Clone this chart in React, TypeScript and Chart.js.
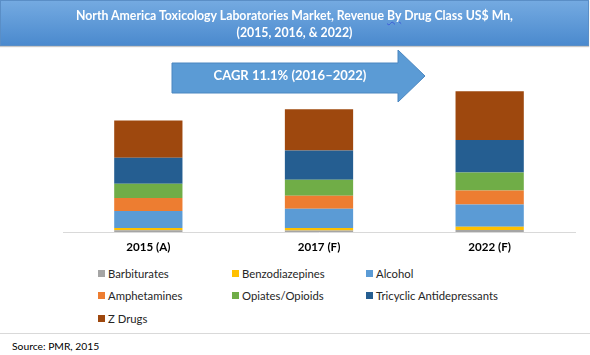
import React, { useEffect, useRef } from "react";
import { Chart, registerables } from "chart.js";

Chart.register(...registerables);

const categories = ["2015 (A)", "2017 (F)", "2022 (F)"];
const seriesNames = [
  "Barbiturates",
  "Benzodiazepines",
  "Alcohol",
  "Amphetamines",
  "Opiates/Opioids",
  "Tricyclic Antidepressants",
  "Z Drugs",
];
const seriesColors = ["#a5a5a5", "#ffc000", "#5b9bd5", "#ed7d31", "#70ad47", "#255e91", "#9e480e"];

const barbiturates = [1.7, 1.5, 2.0];
const benzodiazepines = [2.3, 2.5, 3.3];
const alcohol = [17, 19.3, 22];
const amphetamines = [13, 12.7, 14];
const opiates = [14, 16, 18];
const tricyclic = [26, 29, 32.3];
const zDrugs = [37, 41, 48.3];

const seriesValues = [barbiturates, benzodiazepines, alcohol, amphetamines, opiates, tricyclic, zDrugs];

const titleLine1 = "North America Toxicology Laboratories Market, Revenue ";
const titleBy = "By";
const titleLine1End = " Drug Class US$ Mn,";
const titleLine2 = "(2015, 2016, & 2022)";
const cagrText = "CAGR 11.1% (2016\u20132022)";
const sourceText = "Source: PMR, 2015";

const FONT = "Lato, 'Open Sans', sans-serif";

export default function App() {
  const canvasRef = useRef<HTMLCanvasElement | null>(null);

  useEffect(() => {
    document.body.style.margin = "0";
    const canvas = canvasRef.current;
    if (!canvas) return;
    const chart = new Chart(canvas, {
      type: "bar",
      data: {
        labels: categories,
        datasets: seriesNames.map((name, i) => ({
          label: name,
          data: seriesValues[i],
          backgroundColor: seriesColors[i],
          borderWidth: 0,
          categoryPercentage: 1,
          barPercentage: 0.4,
        })),
      },
      options: {
        responsive: false,
        animation: false,
        layout: { padding: { top: 51, left: 63, right: 15, bottom: 0 } },
        plugins: {
          legend: { display: false },
          title: { display: false },
          tooltip: { enabled: true },
        },
        scales: {
          x: {
            stacked: true,
            grid: { display: false, drawTicks: false },
            border: { display: true, color: "#d9d9d9", width: 1 },
            ticks: {
              padding: 8,
              color: "#000000",
              font: { family: FONT, size: 11.6, weight: "bold" },
            },
          },
          y: {
            stacked: true,
            display: false,
            min: 0,
            max: 180,
          },
        },
      },
    });
    return () => chart.destroy();
  }, []);

  const legendCols = [98, 232, 366];
  const legendRows = [273, 295, 318];

  return (
    <div style={{ position: "relative", width: 590, height: 355, background: "#ffffff", overflow: "hidden", fontFamily: FONT }}>
      <canvas ref={canvasRef} width={590} height={262} style={{ position: "absolute", left: 0, top: 0 }} />
      <div
        style={{
          position: "absolute",
          left: 0,
          top: 0,
          width: 589,
          height: 46,
          boxSizing: "border-box",
          background: "linear-gradient(#74aae1, #4b8ace)",
          border: "1px solid #5a8ec6",
          boxShadow: "0 1px 1px #c8c8c8",
          color: "#ffffff",
          fontWeight: "bold",
          fontSize: 12.3,
          lineHeight: "17px",
          textAlign: "center",
          paddingTop: 6,
        }}
      >
        <div>
          {titleLine1}
          <span style={{ textDecoration: "underline wavy #3b5bd6", textDecorationThickness: 1 }}>{titleBy}</span>
          {titleLine1End}
        </div>
        <div>{titleLine2}</div>
      </div>
      <svg width={590} height={110} style={{ position: "absolute", left: 0, top: 0 }}>
        <polygon
          points="172,63 398,63 398,50 425,76 398,102 398,93 172,93"
          fill="#5b9bd5"
          stroke="#4a86c0"
          strokeWidth={1}
        />
        <text
          x={290}
          y={77}
          fill="#ffffff"
          fontFamily={FONT}
          fontWeight="bold"
          fontSize={13}
          textAnchor="middle"
          dominantBaseline="middle"
        >
          {cagrText}
        </text>
      </svg>
      {seriesNames.map((name, i) => {
        const col = i % 3;
        const row = Math.floor(i / 3);
        return (
          <div
            key={name}
            style={{
              position: "absolute",
              left: legendCols[col],
              top: legendRows[row] - 8,
              height: 16,
              display: "flex",
              alignItems: "center",
              fontSize: 11.3,
              color: "#262626",
              whiteSpace: "nowrap",
            }}
          >
            <span style={{ display: "inline-block", width: 7, height: 7, background: seriesColors[i], marginRight: 3 }} />
            <span>{name}</span>
          </div>
        );
      })}
      <div style={{ position: "absolute", left: 0, top: 333, width: 590, height: 1, background: "#d9d9d9" }} />
      <div style={{ position: "absolute", left: 12, top: 339, fontSize: 10.3, lineHeight: "14px", color: "#000000" }}>
        {sourceText}
      </div>
    </div>
  );
}
